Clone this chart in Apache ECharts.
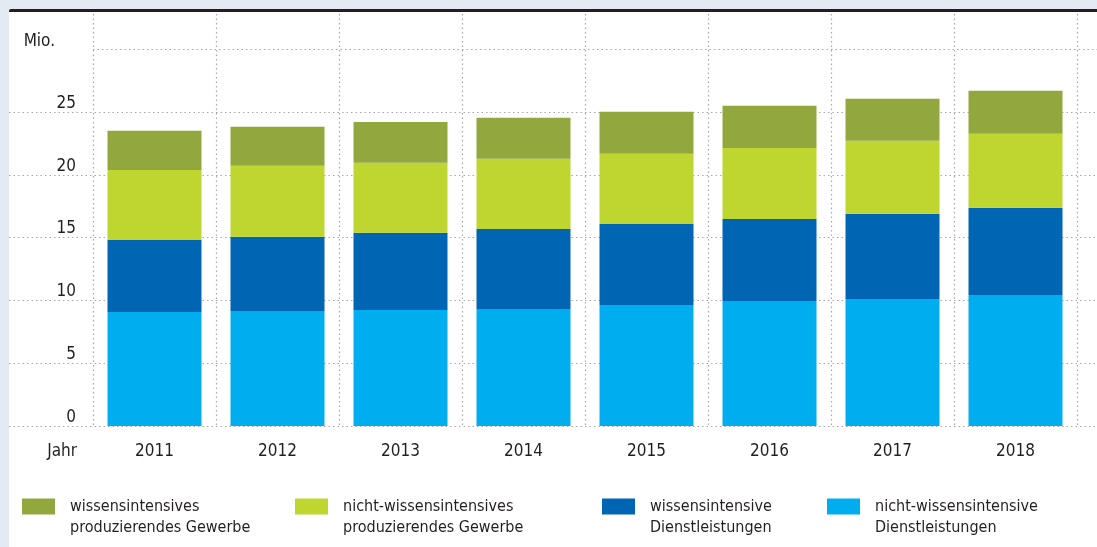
<!DOCTYPE html>
<html><head><meta charset="utf-8">
<script src="https://cdn.jsdelivr.net/npm/echarts@6/dist/echarts.min.js"></script>
<style>
html,body{margin:0;padding:0;background:#e3eaf1;width:1097px;height:547px;overflow:hidden;}
#panel{position:absolute;left:9px;top:9px;width:1088px;height:538px;background:#fff;border-top:3.5px solid #231f20;border-top-left-radius:2px;box-sizing:border-box;}
#chart{position:absolute;left:0;top:0;width:1097px;height:547px;}
</style></head>
<body><div id="panel"></div><div id="chart"></div>
<script>
const years = ['2011','2012','2013','2014','2015','2016','2017','2018'];
const yTicks = [0,5,10,15,20,25,30];
const cyanVals  = [9.08, 9.16, 9.24, 9.32, 9.63, 9.95, 10.11, 10.43];
const blueVals  = [5.73, 5.89, 6.13, 6.36, 6.45, 6.53, 6.77, 6.93];
const limeVals  = [5.57, 5.65, 5.57, 5.58, 5.58, 5.65, 5.81, 5.89];
const oliveVals = [3.11, 3.11, 3.26, 3.26, 3.34, 3.35, 3.35, 3.42];
const names = {
  olive: 'wissensintensives\nproduzierendes Gewerbe',
  lime: 'nicht-wissensintensives\nproduzierendes Gewerbe',
  blue: 'wissensintensive\nDienstleistungen',
  cyan: 'nicht-wissensintensive\nDienstleistungen'
};
const colors = {olive:'#92a83f', lime:'#bed62f', blue:'#0066b3', cyan:'#00adef'};
const FONT = "'DejaVu Sans Condensed','Liberation Sans Narrow','Roboto Condensed',Roboto,sans-serif";
const TXT = '#231f20';
const dot = {color:'#a8a8a8', width:1.2, type:[1.5,3]};

const chart = echarts.init(document.getElementById('chart'), null, {renderer:'canvas'});
function leg(key, left){
  return {
    data:[names[key]], left:left, top:470, orient:'horizontal',
    itemWidth:33, itemHeight:16, icon:'rect', selectedMode:false,
    formatter: n => ' \n' + n,
    textStyle:{fontFamily:FONT, fontSize:16, color:TXT, lineHeight:21, padding:[0,0,0,10]}
  };
}
chart.setOption({
  animation:false,
  textStyle:{fontFamily:FONT},
  grid:[
    {left:93, right:20, top:49, bottom:121},   // main bars
    {left:9, right:0, top:112, bottom:121},    // horizontal dotted lines 0..25
    {left:93, right:0, top:49, bottom:121},    // dotted line at 30
    {left:93, right:20, top:14, bottom:121}    // vertical dotted lines
  ],
  xAxis:[
    {gridIndex:0, type:'category', data:years, boundaryGap:true,
     axisLine:{show:false}, axisTick:{show:false}, splitLine:{show:false},
     axisLabel:{margin:17, fontSize:17, color:TXT, fontFamily:FONT},
     name:'Jahr', nameLocation:'start', nameGap:16,
     nameTextStyle:{fontSize:17, color:TXT, fontFamily:FONT, align:'right', verticalAlign:'top', padding:[17,0,0,0]}},
    {gridIndex:1, type:'value', show:false},
    {gridIndex:2, type:'value', show:false},
    {gridIndex:3, type:'category', data:years, boundaryGap:true,
     axisLine:{show:false}, axisTick:{show:false}, axisLabel:{show:false},
     splitLine:{show:true, interval:0, lineStyle:dot}}
  ],
  yAxis:[
    {gridIndex:0, type:'value', min:0, max:30, interval:5,
     axisLine:{show:false}, axisTick:{show:false}, splitLine:{show:false},
     axisLabel:{margin:17, fontSize:17, color:TXT, fontFamily:FONT, verticalAlign:'bottom', padding:[0,0,0,0],
       formatter: v => (v === 30 ? '' : String(v))},
     name:'Mio.', nameLocation:'end', nameGap:-1,
     nameTextStyle:{fontSize:17, color:TXT, fontFamily:FONT, align:'right', verticalAlign:'bottom', padding:[0,38,0,0]}},
    {gridIndex:1, type:'value', min:0, max:25, interval:5,
     axisLine:{show:false}, axisTick:{show:false}, axisLabel:{show:false},
     splitLine:{show:true, lineStyle:dot}},
    {gridIndex:2, type:'value', min:0, max:30, interval:5,
     axisLine:{show:false}, axisTick:{show:false}, axisLabel:{show:false},
     splitLine:{show:true, lineStyle:Object.assign({}, dot, {color:['transparent','transparent','transparent','transparent','transparent','transparent','#a8a8a8']})}},
    {gridIndex:3, type:'value', show:false}
  ],
  legend:[leg('olive',17), leg('lime',290), leg('blue',597), leg('cyan',822)],
  series:[
    {name:names.cyan, type:'bar', stack:'a', data:cyanVals, barWidth:94, itemStyle:{color:colors.cyan}},
    {name:names.blue, type:'bar', stack:'a', data:blueVals, barWidth:94, itemStyle:{color:colors.blue}},
    {name:names.lime, type:'bar', stack:'a', data:limeVals, barWidth:94, itemStyle:{color:colors.lime}},
    {name:names.olive, type:'bar', stack:'a', data:oliveVals, barWidth:94, itemStyle:{color:colors.olive}}
  ]
});
</script></body></html>
